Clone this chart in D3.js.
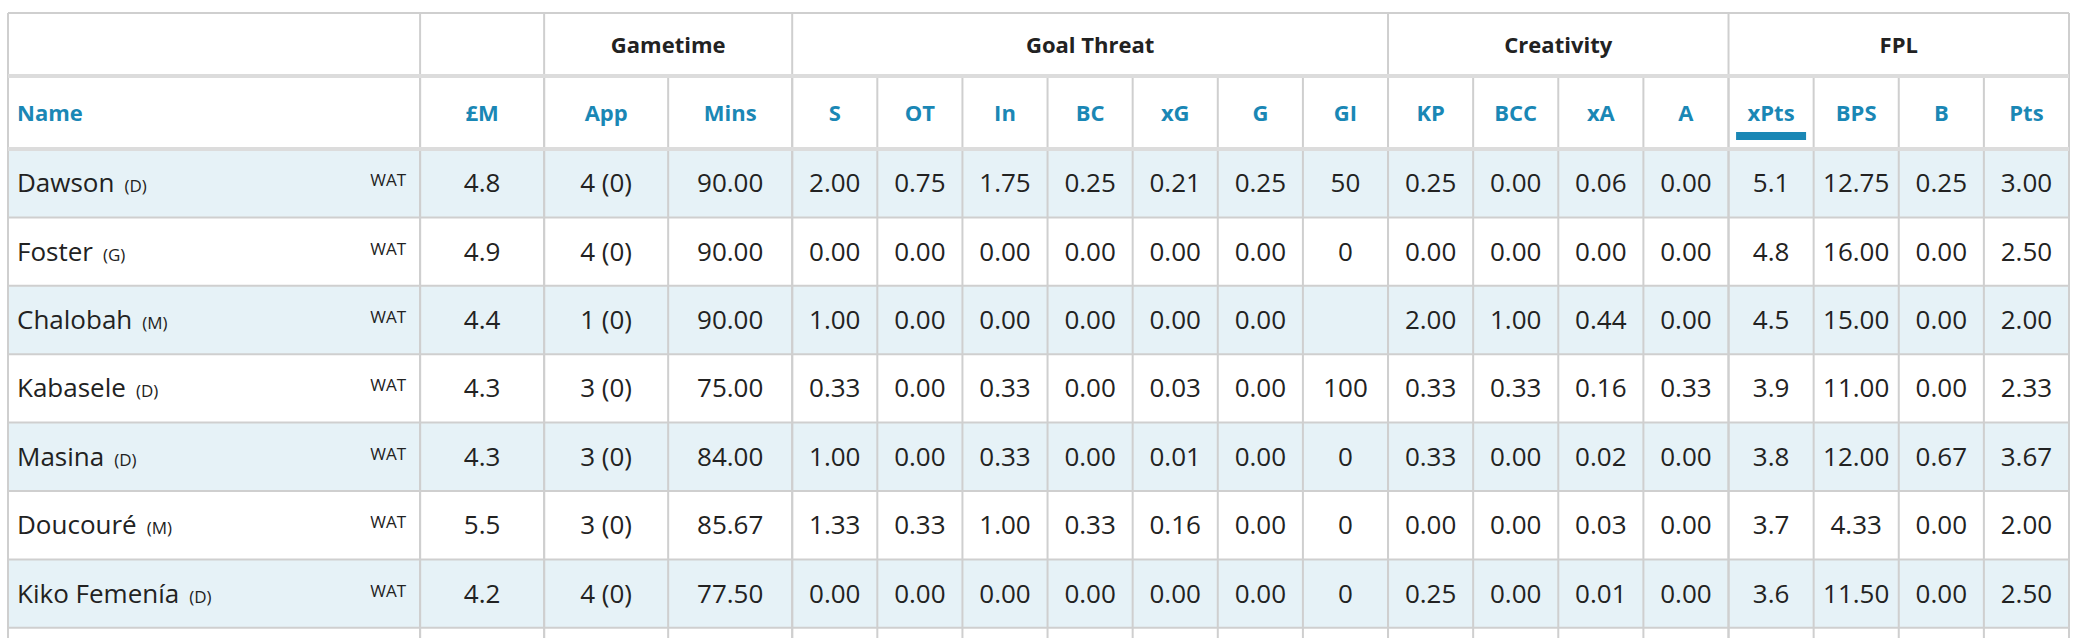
<!DOCTYPE html>
<html><head><meta charset="utf-8">
<script src="https://cdn.jsdelivr.net/npm/d3@7"></script>
<style>body{margin:0;background:#fff}svg{display:block;font-family:"Open Sans",sans-serif}</style>
</head><body><svg id="c" width="2082" height="638"></svg>
<script>
const groups = [["",1],["",1],["Gametime",2],["Goal Threat",7],["Creativity",4],["FPL",4]];
const columns = ["Name","£M","App","Mins","S","OT","In","BC","xG","G","GI","KP","BCC","xA","A","xPts","BPS","B","Pts"];
const names = ["Dawson","Foster","Chalobah","Kabasele","Masina","Doucouré","Kiko Femenía"];
const positions = ["D","G","M","D","D","M","D"];
const teams = ["WAT","WAT","WAT","WAT","WAT","WAT","WAT"];
const values = [
 ["4.8","4 (0)","90.00","2.00","0.75","1.75","0.25","0.21","0.25","50","0.25","0.00","0.06","0.00","5.1","12.75","0.25","3.00"],
 ["4.9","4 (0)","90.00","0.00","0.00","0.00","0.00","0.00","0.00","0","0.00","0.00","0.00","0.00","4.8","16.00","0.00","2.50"],
 ["4.4","1 (0)","90.00","1.00","0.00","0.00","0.00","0.00","0.00","","2.00","1.00","0.44","0.00","4.5","15.00","0.00","2.00"],
 ["4.3","3 (0)","75.00","0.33","0.00","0.33","0.00","0.03","0.00","100","0.33","0.33","0.16","0.33","3.9","11.00","0.00","2.33"],
 ["4.3","3 (0)","84.00","1.00","0.00","0.33","0.00","0.01","0.00","0","0.33","0.00","0.02","0.00","3.8","12.00","0.67","3.67"],
 ["5.5","3 (0)","85.67","1.33","0.33","1.00","0.33","0.16","0.00","0","0.00","0.00","0.03","0.00","3.7","4.33","0.00","2.00"],
 ["4.2","4 (0)","77.50","0.00","0.00","0.00","0.00","0.00","0.00","0","0.25","0.00","0.01","0.00","3.6","11.50","0.00","2.50"]
];
const sortedColumn = "xPts";

const svg = d3.select("#c");
const widthUnits = columns.map((c,i)=> i===0?412 : (i<=3?124:85.1));
const L=8, R=2069;
const total = d3.sum(widthUnits);
const xs = d3.scaleLinear().domain([0,total]).range([L,R]);
const edges=[0]; widthUnits.forEach(w=>edges.push(edges[edges.length-1]+w));
const colX = edges.map(e=>xs(e));
const tY=13, gH=63, hH=73, rowH=68.4;
const yRow = d3.scaleBand().domain(d3.range(8)).range([tY+gH+hH, tY+gH+hH+8*rowH]);
const blue="#1a87b5", grid="#cfcfcf", txt="#222";

svg.selectAll("rect.row").data(d3.range(8)).join("rect").attr("class","row")
 .attr("x",L).attr("width",R-L).attr("y",i=>yRow(i)).attr("height",rowH)
 .attr("fill",i=>(i%2===0&&i<7)?"#e6f2f7":"#fff");

let gi=0; const gEdges=[];
groups.forEach(g=>{gEdges.push([gi,gi+g[1]]);gi+=g[1];});
svg.selectAll("text.g").data(groups).join("text").attr("class","g")
 .attr("x",(d,i)=>(colX[gEdges[i][0]]+colX[gEdges[i][1]])/2).attr("y",tY+gH/2+8)
 .attr("text-anchor","middle").attr("font-weight",700).attr("font-size",22).attr("fill",txt).text(d=>d[0]);

svg.selectAll("text.h").data(columns).join("text").attr("class","h")
 .attr("x",(d,i)=>i===0?colX[0]+9:(colX[i]+colX[i+1])/2).attr("y",tY+gH+hH/2+8)
 .attr("text-anchor",(d,i)=>i===0?"start":"middle").attr("font-weight",700).attr("font-size",22)
 .attr("fill",blue).text(d=>d);
const si=columns.indexOf(sortedColumn);
svg.append("rect").attr("x",(colX[si]+colX[si+1])/2-35).attr("width",70)
 .attr("y",tY+gH+hH-17).attr("height",8).attr("fill",blue);

names.forEach((n,r)=>{
  const yc=yRow(r)+rowH/2+9;
  const t=svg.append("text").attr("x",colX[0]+9).attr("y",yc).attr("font-size",26).attr("fill",txt);
  t.append("tspan").text(n);
  t.append("tspan").attr("font-size",17).attr("dx",10).text("("+positions[r]+")");
  svg.append("text").attr("x",colX[1]-14).attr("y",yc-6).attr("text-anchor","end").attr("font-size",17).attr("fill",txt).text(teams[r]);
  svg.selectAll("text.v"+r).data(values[r]).join("text").attr("class","v"+r)
   .attr("x",(d,i)=>(colX[i+1]+colX[i+2])/2).attr("y",yc).attr("text-anchor","middle")
   .attr("font-size",26).attr("fill",txt).text(d=>d);
});

const bottom=638;
gEdges.forEach(e=>svg.append("line").attr("x1",colX[e[0]]).attr("x2",colX[e[0]]).attr("y1",tY).attr("y2",bottom).attr("stroke",grid).attr("stroke-width",2));
svg.append("line").attr("x1",R).attr("x2",R).attr("y1",tY).attr("y2",bottom).attr("stroke",grid).attr("stroke-width",2);
colX.forEach((x,i)=>{ if(i>0&&i<columns.length) svg.append("line").attr("x1",x).attr("x2",x).attr("y1",tY+gH).attr("y2",bottom).attr("stroke",grid).attr("stroke-width",2);});
svg.append("line").attr("x1",L).attr("x2",R).attr("y1",tY).attr("y2",tY).attr("stroke",grid).attr("stroke-width",2);
svg.append("rect").attr("x",L).attr("width",R-L).attr("y",tY+gH-2).attr("height",4).attr("fill","#dcdcdc");
svg.append("rect").attr("x",L).attr("width",R-L).attr("y",tY+gH+hH-2).attr("height",4).attr("fill","#dcdcdc");
d3.range(1,8).forEach(i=>svg.append("line").attr("x1",L).attr("x2",R).attr("y1",yRow(i)).attr("y2",yRow(i)).attr("stroke",grid).attr("stroke-width",2));
</script></body></html>
